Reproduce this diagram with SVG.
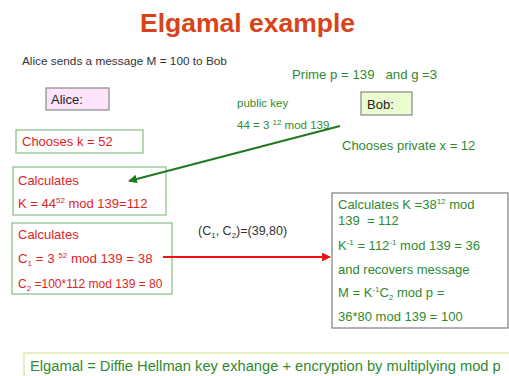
<svg xmlns="http://www.w3.org/2000/svg" width="509" height="376" viewBox="0 0 509 376">
<defs>
<style>
text{font-family:"Liberation Sans",Arial,sans-serif}
.g{fill:#2f8a2f}
.r{fill:#e02424}
.k{fill:#222}
.gbox{fill:#fff;stroke:#8fc28f;stroke-width:1.3}
.sup{font-size:8px}
</style>
<marker id="ag" viewBox="0 0 10 10" refX="9" refY="5" markerWidth="4" markerHeight="4" orient="auto"><path d="M0,0L10,5L0,10z" fill="#1f7a1f"/></marker>
<marker id="ar" viewBox="0 0 10 10" refX="9" refY="5" markerWidth="4" markerHeight="4" orient="auto"><path d="M0,0L10,5L0,10z" fill="#ee1111"/></marker>
</defs>
<rect width="509" height="376" fill="#fff"/>
<text x="247.5" y="32" text-anchor="middle" font-size="26.5" font-weight="bold" fill="#d8431b">Elgamal example</text>
<text x="22" y="65" font-size="11.8" fill="#333">Alice sends a message M = 100 to Bob</text>
<text x="292" y="79" font-size="13.2" class="g" xml:space="preserve">Prime p = 139   and g =3</text>
<g id="alice">
<rect x="46" y="88" width="63" height="22" fill="#fde4fb" stroke="#888" stroke-width="1.2"/>
<text x="51" y="104" font-size="13" class="k">Alice:</text>
</g>
<g id="bob">
<rect x="361" y="92" width="51" height="23" fill="#eafcd0" stroke="#888" stroke-width="1.2"/>
<text x="367" y="109" font-size="13" class="k">Bob:</text>
</g>
<g id="pubkey">
<text x="237" y="107" font-size="11.5" class="g">public key</text>
<text x="237" y="129" font-size="11.5" class="g">44 = 3 <tspan class="sup" dy="-4">12</tspan><tspan dy="4"> mod 139</tspan></text>
</g>
<text x="342" y="150" font-size="13" class="g">Chooses private x = 12</text>
<g id="choosek">
<rect class="gbox" x="16" y="130" width="127" height="23"/>
<text x="22" y="146" font-size="13" class="r">Chooses k = 52</text>
</g>
<g id="calcK">
<rect class="gbox" x="13" y="167" width="153" height="48"/>
<text x="18" y="185" font-size="13" class="r">Calculates</text>
<text x="18" y="208" font-size="13" class="r">K = 44<tspan class="sup" dy="-5">52</tspan><tspan dy="5"> mod 139=112</tspan></text>
</g>
<g id="calcC">
<rect class="gbox" x="12" y="223" width="160" height="71"/>
<text x="18" y="239" font-size="13" class="r">Calculates</text>
<text x="18" y="263" font-size="13.3" class="r">C<tspan class="sup" dy="3">1</tspan><tspan dy="-3"> = 3 </tspan><tspan class="sup" dy="-5">52</tspan><tspan dy="5"> mod 139 = 38</tspan></text>
<text x="18" y="288" font-size="12" class="r">C<tspan class="sup" dy="3">2</tspan><tspan dy="-3"> =100*112 mod 139 = 80</tspan></text>
</g>
<g id="cipher">
<text x="198" y="235" font-size="12.5" fill="#333">(C<tspan class="sup" dy="3">1</tspan><tspan dy="-3">, C</tspan><tspan class="sup" dy="3">2</tspan><tspan dy="-3">)=(39,80)</tspan></text>
</g>
<g id="bobcalc">
<rect x="332" y="193" width="176" height="135" fill="#fff" stroke="#888" stroke-width="1.3"/>
<text x="338" y="209" font-size="13" class="g">Calculates K =38<tspan class="sup" dy="-5">12</tspan><tspan dy="5"> mod</tspan></text>
<text x="338" y="225" font-size="13" class="g" xml:space="preserve">139  = 112</text>
<text x="338" y="250" font-size="13" class="g">K<tspan class="sup" dy="-5">-1</tspan><tspan dy="5"> = 112</tspan><tspan class="sup" dy="-5">-1</tspan><tspan dy="5"> mod 139 = 36</tspan></text>
<text x="338" y="274" font-size="13" class="g">and recovers message</text>
<text x="338" y="297" font-size="13" class="g">M = K<tspan class="sup" dy="-5">-1</tspan><tspan dy="5">C</tspan><tspan class="sup" dy="3">2</tspan><tspan dy="-3"> mod p =</tspan></text>
<text x="338" y="321" font-size="13" class="g">36*80 mod 139 = 100</text>
</g>
<g id="summary">
<rect x="24" y="353" width="500" height="40" fill="#fff" stroke="#d4eb9a" stroke-width="1.3"/>
<text x="30" y="371" font-size="14.7" class="g">Elgamal = Diffie Hellman key exhange + encryption by multiplying mod p</text>
</g>
<g id="connectors">
<line x1="340" y1="126" x2="129" y2="181" stroke="#1f7a1f" stroke-width="2.2" marker-end="url(#ag)"/>
<line x1="163" y1="257" x2="330" y2="257" stroke="#ee1111" stroke-width="2.2" marker-end="url(#ar)"/>
</g>
</svg>
